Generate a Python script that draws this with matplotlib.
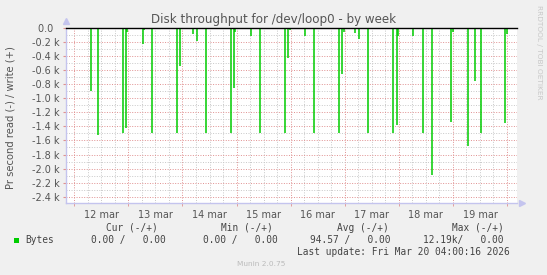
import matplotlib
matplotlib.use("Agg")
import matplotlib.dates as mdates
import matplotlib.pyplot as plt
import pandas as pd

# 30 min samples with read activity (bytes/s, read shown negative)
spike_times = [
    "2026-03-12 07:30", "2026-03-12 10:30", "2026-03-12 21:30", "2026-03-12 23:00",
    "2026-03-12 23:30", "2026-03-13 06:30", "2026-03-13 07:00", "2026-03-13 10:30",
    "2026-03-13 21:30", "2026-03-13 23:00", "2026-03-14 04:30", "2026-03-14 06:30",
    "2026-03-14 10:30", "2026-03-14 21:30", "2026-03-14 23:00", "2026-03-14 23:30",
    "2026-03-15 06:30", "2026-03-15 10:30", "2026-03-15 21:30", "2026-03-15 23:00",
    "2026-03-15 23:30", "2026-03-16 06:30", "2026-03-16 10:30", "2026-03-16 21:30",
    "2026-03-16 23:00", "2026-03-16 23:30", "2026-03-17 04:30", "2026-03-17 06:30",
    "2026-03-17 10:30", "2026-03-17 21:30", "2026-03-17 23:00", "2026-03-17 23:30",
    "2026-03-18 06:30", "2026-03-18 10:30", "2026-03-18 14:30", "2026-03-18 23:00",
    "2026-03-19 00:00", "2026-03-19 06:30", "2026-03-19 07:30", "2026-03-19 10:00",
    "2026-03-19 12:30", "2026-03-19 23:00", "2026-03-20 00:00",
]
read_bytes = [
    -890, -1520, -1500, -1420, -50, -230, -30, -1500,
    -1490, -540, -90, -190, -1500, -1490, -850, -50,
    -110, -1500, -1490, -430, -30, -110, -1500, -1490,
    -650, -50, -70, -160, -1500, -1500, -1380, -120,
    -110, -1500, -2090, -1340, -50, -1680, -20, -750,
    -1500, -1350, -80,
]

day_labels = ["12 mar", "13 mar", "14 mar", "15 mar", "16 mar", "17 mar", "18 mar", "19 mar"]
y_ticks = [0, -200, -400, -600, -800, -1000, -1200, -1400, -1600, -1800, -2000, -2200, -2400]
y_labels = ["0.0  ", "-0.2 k", "-0.4 k", "-0.6 k", "-0.8 k", "-1.0 k", "-1.2 k",
            "-1.4 k", "-1.6 k", "-1.8 k", "-2.0 k", "-2.2 k", "-2.4 k"]

legend_heads = ["Cur (-/+)", "Min (-/+)", "Avg (-/+)", "Max (-/+)"]
legend_vals = ["0.00 /   0.00", "0.00 /   0.00", "94.57 /   0.00", "12.19k/   0.00"]
last_update = "Last update: Fri Mar 20 04:00:16 2026"

W, H = 547, 275
BG = "#f0f0f0"
TXT = "#555555"
AXIS = "#c4c4ee"
GREEN = "#00cc00"
MAJOR = "#e09090"
MINOR = "#c8c8c8"


def px(x, y):
    return x / W, 1 - y / H


fig = plt.figure(figsize=(W / 100, H / 100), dpi=100, facecolor=BG)
left, right, top, bottom = 65.5, 517, 28, 203.3
ax = fig.add_axes([left / W, 1 - bottom / H, (right - left) / W, (bottom - top) / H])
ax.set_facecolor("white")

x0 = pd.Timestamp("2026-03-11 20:05")
x1 = pd.Timestamp("2026-03-20 04:26")
ax.set_xlim(x0, x1)
ax.set_ylim(-2494, 0)

# grid
for h in pd.date_range("2026-03-11 00:00", "2026-03-20 06:00", freq="6h"):
    if h < x0 or h > x1:
        continue
    c = MAJOR if h.hour == 0 else MINOR
    ax.axvline(h, color=c, lw=0.7, ls=(0, (1, 1.6)), zorder=1)
for v in range(-100, -2500, -100):
    c = MAJOR if v % 200 == 0 else MINOR
    ax.axhline(v, color=c, lw=0.7, ls=(0, (1, 1.6)), zorder=1)

times = pd.to_datetime(spike_times)
ax.vlines(times, 0, read_bytes, color=GREEN, lw=1.1, zorder=3)
ax.axhline(0, color="black", lw=1.0, zorder=4, clip_on=False)

# axes
for s in ["top", "right"]:
    ax.spines[s].set_visible(False)
for s in ["left", "bottom"]:
    ax.spines[s].set_color(AXIS)
    ax.spines[s].set_linewidth(1.0)
ax.plot([0], [1.04], marker="^", ms=4, color=AXIS, transform=ax.transAxes, clip_on=False)
ax.plot([1.012], [0], marker=">", ms=4, color=AXIS, transform=ax.transAxes, clip_on=False)

ax.set_yticks(y_ticks)
ax.set_yticklabels(y_labels, fontsize=7, color=TXT)
ax.tick_params(axis="y", length=2, color=MAJOR, pad=2)

noons = pd.date_range("2026-03-12 12:00", periods=len(day_labels), freq="D")
ax.set_xticks(noons)
ax.set_xticklabels(day_labels, fontsize=7, color=TXT)
ax.tick_params(axis="x", length=0, pad=5)
ax.set_xticks(pd.date_range("2026-03-12", periods=9, freq="D"), minor=True)
ax.tick_params(axis="x", which="minor", length=2, color=MAJOR)

fig.text(*px(273.5, 19), "Disk throughput for /dev/loop0 - by week", ha="center", va="center",
         fontsize=8.6, color=TXT)
fig.text(*px(11, 118), "Pr second read (-) / write (+)", rotation=90, ha="center", va="center",
         fontsize=7.2, color=TXT)
fig.text(*px(539, 5), "RRDTOOL / TOBI OETIKER", rotation=270, ha="center", va="top",
         fontsize=5.3, color="#c8c8c8")

# legend
mono = dict(family="DejaVu Sans Mono", fontsize=6.85, color="#444444", va="center")
for xx, s in zip([106, 221, 337, 452], legend_heads):
    fig.text(*px(xx, 228), s, **mono)
fig.patches.append(plt.Rectangle(px(13.5, 242.5), 5 / W, 5 / H, transform=fig.transFigure,
                                 facecolor=GREEN, edgecolor="none"))
fig.text(*px(25, 240), "Bytes", **mono)
for xx, s in zip([91, 203, 310, 423], legend_vals):
    fig.text(*px(xx, 240), s, **mono)
fig.text(*px(297, 252), last_update, **mono)
fig.text(*px(261, 264), "Munin 2.0.75", ha="center", va="center", fontsize=5.3, color="#bbbbbb")

fig.savefig("out.png", dpi=100, facecolor=BG)
